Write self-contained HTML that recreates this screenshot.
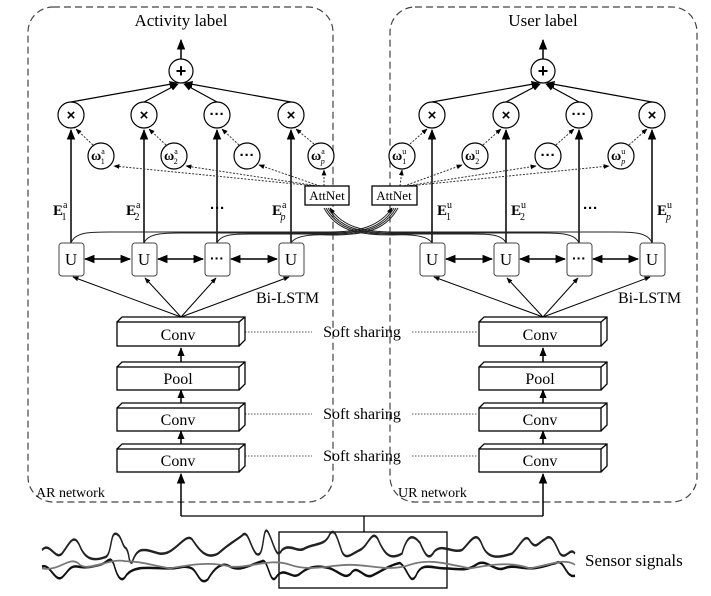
<!DOCTYPE html>
<html><head><meta charset="utf-8"><style>
html,body{margin:0;padding:0;background:#fff;}
svg{display:block;}
</style></head><body>
<svg width="711" height="596" viewBox="0 0 711 596" xmlns="http://www.w3.org/2000/svg" font-family="Liberation Serif, serif">
<defs>
<marker id="a" viewBox="0 0 10 10" refX="9" refY="5" markerWidth="7" markerHeight="7" orient="auto-start-reverse"><path d="M0,1 L10,5 L0,9 z" fill="#000"/></marker>
<marker id="s" viewBox="0 0 10 10" refX="9" refY="5" markerWidth="6" markerHeight="6" orient="auto"><path d="M0,1 L10,5 L0,9 z" fill="#000"/></marker>
</defs>
<rect x="28" y="7" width="305" height="495" rx="25" fill="none" stroke="#444" stroke-width="1.2" stroke-dasharray="7,4"/>
<rect x="390" y="7" width="307" height="495" rx="25" fill="none" stroke="#444" stroke-width="1.2" stroke-dasharray="7,4"/>
<text x="181" y="26" font-size="17" text-anchor="middle">Activity label</text>
<text x="543" y="26" font-size="17" text-anchor="middle">User label</text>
<text x="36" y="497" font-size="14">AR network</text>
<text x="398" y="497" font-size="14">UR network</text>

<g stroke="#000" stroke-width="1.5" fill="none">
<line x1="181" y1="59" x2="181" y2="40" marker-end="url(#a)"/>
<line x1="543" y1="59" x2="543" y2="40" marker-end="url(#a)"/>
<line x1="71" y1="102" x2="177" y2="83" marker-end="url(#a)" stroke-width="1.2"/>
<line x1="144" y1="102" x2="178" y2="84" marker-end="url(#a)" stroke-width="1.2"/>
<line x1="217" y1="102" x2="184" y2="84" marker-end="url(#a)" stroke-width="1.2"/>
<line x1="291" y1="102" x2="185" y2="83" marker-end="url(#a)" stroke-width="1.2"/>
<line x1="432" y1="102" x2="539" y2="83" marker-end="url(#a)" stroke-width="1.2"/>
<line x1="506" y1="102" x2="540" y2="84" marker-end="url(#a)" stroke-width="1.2"/>
<line x1="579" y1="102" x2="546" y2="84" marker-end="url(#a)" stroke-width="1.2"/>
<line x1="652" y1="102" x2="547" y2="83" marker-end="url(#a)" stroke-width="1.2"/>
<line x1="71" y1="243" x2="71" y2="130" marker-end="url(#a)"/>
<line x1="144" y1="243" x2="144" y2="130" marker-end="url(#a)"/>
<line x1="217" y1="243" x2="217" y2="130" marker-end="url(#a)"/>
<line x1="291" y1="243" x2="291" y2="130" marker-end="url(#a)"/>
<line x1="432" y1="243" x2="432" y2="130" marker-end="url(#a)"/>
<line x1="506" y1="243" x2="506" y2="130" marker-end="url(#a)"/>
<line x1="579" y1="243" x2="579" y2="130" marker-end="url(#a)"/>
<line x1="652" y1="243" x2="652" y2="130" marker-end="url(#a)"/>
<line x1="85" y1="259" x2="130" y2="259" marker-start="url(#a)" marker-end="url(#a)"/>
<line x1="158" y1="259" x2="203" y2="259" marker-start="url(#a)" marker-end="url(#a)"/>
<line x1="231" y1="259" x2="277" y2="259" marker-start="url(#a)" marker-end="url(#a)"/>
<line x1="446" y1="259" x2="492" y2="259" marker-start="url(#a)" marker-end="url(#a)"/>
<line x1="520" y1="259" x2="565" y2="259" marker-start="url(#a)" marker-end="url(#a)"/>
<line x1="593" y1="259" x2="638" y2="259" marker-start="url(#a)" marker-end="url(#a)"/>
<g stroke-width="1">
<line x1="181" y1="317" x2="73" y2="277" marker-end="url(#s)"/>
<line x1="181" y1="317" x2="145" y2="278" marker-end="url(#s)"/>
<line x1="181" y1="317" x2="216" y2="278" marker-end="url(#s)"/>
<line x1="181" y1="317" x2="289" y2="277" marker-end="url(#s)"/>
<line x1="543" y1="317" x2="434" y2="277" marker-end="url(#s)"/>
<line x1="543" y1="317" x2="507" y2="278" marker-end="url(#s)"/>
<line x1="543" y1="317" x2="578" y2="278" marker-end="url(#s)"/>
<line x1="543" y1="317" x2="650" y2="277" marker-end="url(#s)"/>
</g>
<line x1="181" y1="362" x2="181" y2="348" marker-end="url(#s)"/>
<line x1="181" y1="403" x2="181" y2="390" marker-end="url(#s)"/>
<line x1="181" y1="444" x2="181" y2="431" marker-end="url(#s)"/>
<line x1="543" y1="362" x2="543" y2="348" marker-end="url(#s)"/>
<line x1="543" y1="403" x2="543" y2="390" marker-end="url(#s)"/>
<line x1="543" y1="444" x2="543" y2="431" marker-end="url(#s)"/>
<polyline points="181,516 181,474" marker-end="url(#a)"/>
<polyline points="543,516 543,474" marker-end="url(#a)"/>
<polyline points="181,516 543,516" stroke-width="1.3"/>
<line x1="364" y1="516" x2="364" y2="532" stroke-width="1.3"/>
<g stroke-width="1" stroke="#222">
<path d="M71,243 C75,232 90,232 110,232 L330,232 C360,232 380,226 392,208" marker-end="url(#s)"/>
<path d="M144,243 C148,234 160,233 180,233 L330,233 C362,233 382,228 394,208"/>
<path d="M217,243 C221,234 235,234 250,234 L330,234 C364,234 384,229 396,208"/>
<path d="M291,243 C295,236 310,234 330,235 C366,235 386,230 398,208"/>
<path d="M652,243 C648,232 633,232 613,232 L392,232 C362,232 342,226 330,208" marker-end="url(#s)"/>
<path d="M579,243 C575,234 563,233 543,233 L392,233 C360,233 340,228 328,208"/>
<path d="M506,243 C502,234 488,234 470,234 L392,234 C358,234 338,229 326,208"/>
<path d="M432,243 C428,236 413,234 392,235 C356,235 336,230 324,208"/>
</g>
</g>

<g stroke="#333" stroke-width="1" fill="none" stroke-dasharray="2,1.5">
<line x1="316" y1="186" x2="114" y2="166" marker-end="url(#s)"/>
<line x1="318" y1="186" x2="186" y2="166" marker-end="url(#s)"/>
<line x1="320" y1="186" x2="259" y2="165" marker-end="url(#s)"/>
<line x1="324" y1="186" x2="324" y2="170" marker-end="url(#s)"/>
<line x1="400" y1="186" x2="402" y2="170" marker-end="url(#s)"/>
<line x1="404" y1="186" x2="462" y2="165" marker-end="url(#s)"/>
<line x1="406" y1="186" x2="536" y2="166" marker-end="url(#s)"/>
<line x1="408" y1="186" x2="609" y2="166" marker-end="url(#s)"/>
<line x1="93" y1="145" x2="76" y2="129" marker-end="url(#s)"/>
<line x1="166" y1="145" x2="149" y2="129" marker-end="url(#s)"/>
<line x1="239" y1="145" x2="222" y2="129" marker-end="url(#s)"/>
<line x1="314" y1="144" x2="296" y2="129" marker-end="url(#s)"/>
<line x1="410" y1="144" x2="427" y2="129" marker-end="url(#s)"/>
<line x1="483" y1="145" x2="501" y2="129" marker-end="url(#s)"/>
<line x1="556" y1="145" x2="574" y2="129" marker-end="url(#s)"/>
<line x1="629" y1="145" x2="647" y2="129" marker-end="url(#s)"/>
</g>
<g stroke="#555" stroke-width="1" stroke-dasharray="1.5,1.5">
<line x1="245" y1="332" x2="312" y2="332"/><line x1="412" y1="332" x2="478" y2="332"/>
<line x1="245" y1="414" x2="312" y2="414"/><line x1="412" y1="414" x2="478" y2="414"/>
<line x1="245" y1="456" x2="312" y2="456"/><line x1="412" y1="456" x2="478" y2="456"/>
</g>
<g font-size="16" text-anchor="middle">
<text x="362" y="337">Soft sharing</text>
<text x="362" y="419">Soft sharing</text>
<text x="362" y="461">Soft sharing</text>
</g>

<g fill="#fff" stroke="#000" stroke-width="1.2">
<circle cx="181" cy="71" r="12"/><circle cx="543" cy="71" r="12"/>
<circle cx="71" cy="115" r="13"/><circle cx="144" cy="115" r="13"/><circle cx="217" cy="115" r="13"/><circle cx="291" cy="115" r="13"/>
<circle cx="432" cy="115" r="13"/><circle cx="506" cy="115" r="13"/><circle cx="579" cy="115" r="13"/><circle cx="652" cy="115" r="13"/>
<circle cx="101" cy="156" r="13"/><circle cx="174" cy="156" r="13"/><circle cx="247" cy="156" r="13"/><circle cx="321" cy="156" r="13"/>
<circle cx="402" cy="156" r="13"/><circle cx="475" cy="156" r="13"/><circle cx="548" cy="156" r="13"/><circle cx="621" cy="156" r="13"/>
</g>
<g font-family="Liberation Sans, sans-serif" font-weight="bold" text-anchor="middle">
<text x="181" y="77" font-size="18">+</text><text x="543" y="77" font-size="18">+</text>
<g font-size="15">
<text x="71" y="120">×</text><text x="144" y="120">×</text><text x="217" y="119">···</text><text x="291" y="120">×</text>
<text x="432" y="120">×</text><text x="506" y="120">×</text><text x="579" y="119">···</text><text x="652" y="120">×</text>
<text x="247" y="160">···</text><text x="548" y="160">···</text>
</g>
</g>
<g font-size="14" font-weight="bold">
<text x="91" y="160">ω<tspan font-size="8" font-weight="normal" dy="-6">a</tspan><tspan font-size="8" font-weight="normal" dx="-4" dy="10">1</tspan></text>
<text x="164" y="160">ω<tspan font-size="8" font-weight="normal" dy="-6">a</tspan><tspan font-size="8" font-weight="normal" dx="-4" dy="10">2</tspan></text>
<text x="311" y="160">ω<tspan font-size="8" font-weight="normal" dy="-6">a</tspan><tspan font-size="8" font-style="italic" font-weight="normal" dx="-4" dy="10">p</tspan></text>
<text x="392" y="160">ω<tspan font-size="8" font-weight="normal" dy="-6">u</tspan><tspan font-size="8" font-weight="normal" dx="-4" dy="10">1</tspan></text>
<text x="465" y="160">ω<tspan font-size="8" font-weight="normal" dy="-6">u</tspan><tspan font-size="8" font-weight="normal" dx="-4" dy="10">2</tspan></text>
<text x="611" y="160">ω<tspan font-size="8" font-weight="normal" dy="-6">u</tspan><tspan font-size="8" font-style="italic" font-weight="normal" dx="-4" dy="10">p</tspan></text>
</g>
<g font-size="15" font-weight="bold">
<text x="53" y="215">E<tspan font-size="10" font-weight="normal" dy="-7">a</tspan><tspan font-size="10" font-weight="normal" dx="-6" dy="12">1</tspan></text>
<text x="126" y="215">E<tspan font-size="10" font-weight="normal" dy="-7">a</tspan><tspan font-size="10" font-weight="normal" dx="-6" dy="12">2</tspan></text>
<text x="272" y="215">E<tspan font-size="10" font-weight="normal" dy="-7">a</tspan><tspan font-size="10" font-style="italic" font-weight="normal" dx="-6" dy="12">p</tspan></text>
<text x="437" y="215">E<tspan font-size="10" font-weight="normal" dy="-7">u</tspan><tspan font-size="10" font-weight="normal" dx="-6" dy="12">1</tspan></text>
<text x="511" y="215">E<tspan font-size="10" font-weight="normal" dy="-7">u</tspan><tspan font-size="10" font-weight="normal" dx="-6" dy="12">2</tspan></text>
<text x="657" y="215">E<tspan font-size="10" font-weight="normal" dy="-7">u</tspan><tspan font-size="10" font-style="italic" font-weight="normal" dx="-6" dy="12">p</tspan></text>
<text x="210" y="213" font-family="Liberation Sans, sans-serif">···</text>
<text x="583" y="213" font-family="Liberation Sans, sans-serif">···</text>
</g>
<g fill="#fff" stroke="#000" stroke-width="1.3">
<rect x="305" y="186" width="44" height="19"/><rect x="372" y="186" width="45" height="19"/>
</g>
<g font-size="13" text-anchor="middle"><text x="327" y="200">AttNet</text><text x="394" y="200">AttNet</text></g>
<g fill="#fff" stroke="#444" stroke-width="1">
<rect x="59" y="243" width="25" height="33" rx="3"/><rect x="132" y="243" width="25" height="33" rx="3"/><rect x="205" y="243" width="25" height="33" rx="3"/><rect x="279" y="243" width="25" height="33" rx="3"/>
<rect x="420" y="243" width="25" height="33" rx="3"/><rect x="494" y="243" width="25" height="33" rx="3"/><rect x="567" y="243" width="25" height="33" rx="3"/><rect x="640" y="243" width="25" height="33" rx="3"/>
</g>
<g font-size="17" text-anchor="middle">
<text x="71" y="265">U</text><text x="144" y="265">U</text><text x="291" y="265">U</text>
<text x="432" y="265">U</text><text x="506" y="265">U</text><text x="652" y="265">U</text>
</g>
<g font-family="Liberation Sans, sans-serif" font-weight="bold" font-size="14" text-anchor="middle"><text x="217" y="263">···</text><text x="579" y="263">···</text></g>
<g font-size="16"><text x="256" y="303">Bi-LSTM</text><text x="618" y="303">Bi-LSTM</text></g>

<g fill="#fff" stroke="#000" stroke-width="1.3">
<g id="L">
<path d="M117,322 L122,317 L245,317 L245,340 L239,346"/><rect x="117" y="322" width="122" height="24"/><line x1="239" y1="322" x2="245" y2="317"/>
<path d="M117,367 L122,362 L245,362 L245,384 L239,390"/><rect x="117" y="367" width="122" height="23"/><line x1="239" y1="367" x2="245" y2="362"/>
<path d="M117,408 L122,403 L245,403 L245,425 L239,431"/><rect x="117" y="408" width="122" height="23"/><line x1="239" y1="408" x2="245" y2="403"/>
<path d="M117,449 L122,444 L245,444 L245,466 L239,472"/><rect x="117" y="449" width="122" height="23"/><line x1="239" y1="449" x2="245" y2="444"/>
</g>
<use href="#L" x="362"/>
</g>
<g font-size="16" text-anchor="middle">
<text x="178" y="340">Conv</text><text x="178" y="384">Pool</text><text x="178" y="425">Conv</text><text x="178" y="466">Conv</text>
<text x="540" y="340">Conv</text><text x="540" y="384">Pool</text><text x="540" y="425">Conv</text><text x="540" y="466">Conv</text>
</g>

<rect x="279" y="532" width="168" height="56" fill="none" stroke="#000" stroke-width="1.3"/>
<g fill="none" stroke-width="1.4">
<path transform="translate(0,-440) scale(1,1.8)" stroke="#222" d="M42,550 C50,545 55,556 62,552 C70,546 74,540 80,548 C86,556 95,556 105,554 C112,553 110,540 116,541 C122,542 122,548 126,549 C130,552 128,557 132,557 C138,547 145,550 160,552 C175,553 185,540 192,544 C197,548 205,556 218,552 C230,546 235,545 242,542 C248,538 250,548 256,552 C265,556 262,535 268,540 C274,546 276,556 282,550 C290,546 298,552 305,549 C315,546 325,548 330,541 C335,537 338,545 342,551 C346,556 352,552 360,550 C368,548 372,538 378,544 C384,552 390,556 402,552 C408,540 414,542 420,546 C424,551 428,557 434,551 C442,546 452,552 462,550 C470,546 476,538 482,547 C488,556 500,554 512,552 C520,548 525,540 530,545 C536,550 538,546 545,544 C552,540 556,548 560,552 C566,556 570,548 575,552"/>
<path transform="translate(0,-454) scale(1,1.8)" stroke="#111" d="M42,567 C50,565 55,576 62,573 C68,570 70,566 78,567 C86,568 92,567 100,566 C108,565 110,560 114,566 C118,574 122,576 126,572 C134,566 150,568 170,568 C180,568 185,566 192,568 C198,570 200,578 208,574 C214,568 222,564 230,567 C240,570 250,566 262,564 C268,562 270,578 276,573 C284,566 292,575 300,571 C308,567 318,566 330,568 C340,570 346,575 352,570 C358,566 364,574 372,572 C380,570 390,566 400,565 C408,568 410,578 416,572 C422,564 432,568 444,568 C456,568 466,570 476,566 C486,562 494,570 504,568 C512,566 520,568 530,568 C540,568 548,566 556,565 C564,562 566,574 575,572"/>
<path transform="translate(0,-454) scale(1,1.8)" stroke="#777" stroke-width="1" d="M42,568 C60,570 70,560 80,566 C90,570 110,562 125,564 C140,564 150,566 170,568 C190,566 210,564 230,567 C250,568 270,562 290,566 C310,570 330,566 350,566 C370,566 390,570 410,566 C430,562 450,566 470,568 C490,566 510,564 530,568 C550,566 565,562 575,566"/>
</g>
<text x="585" y="566" font-size="17">Sensor signals</text>
</svg>
</body></html>
